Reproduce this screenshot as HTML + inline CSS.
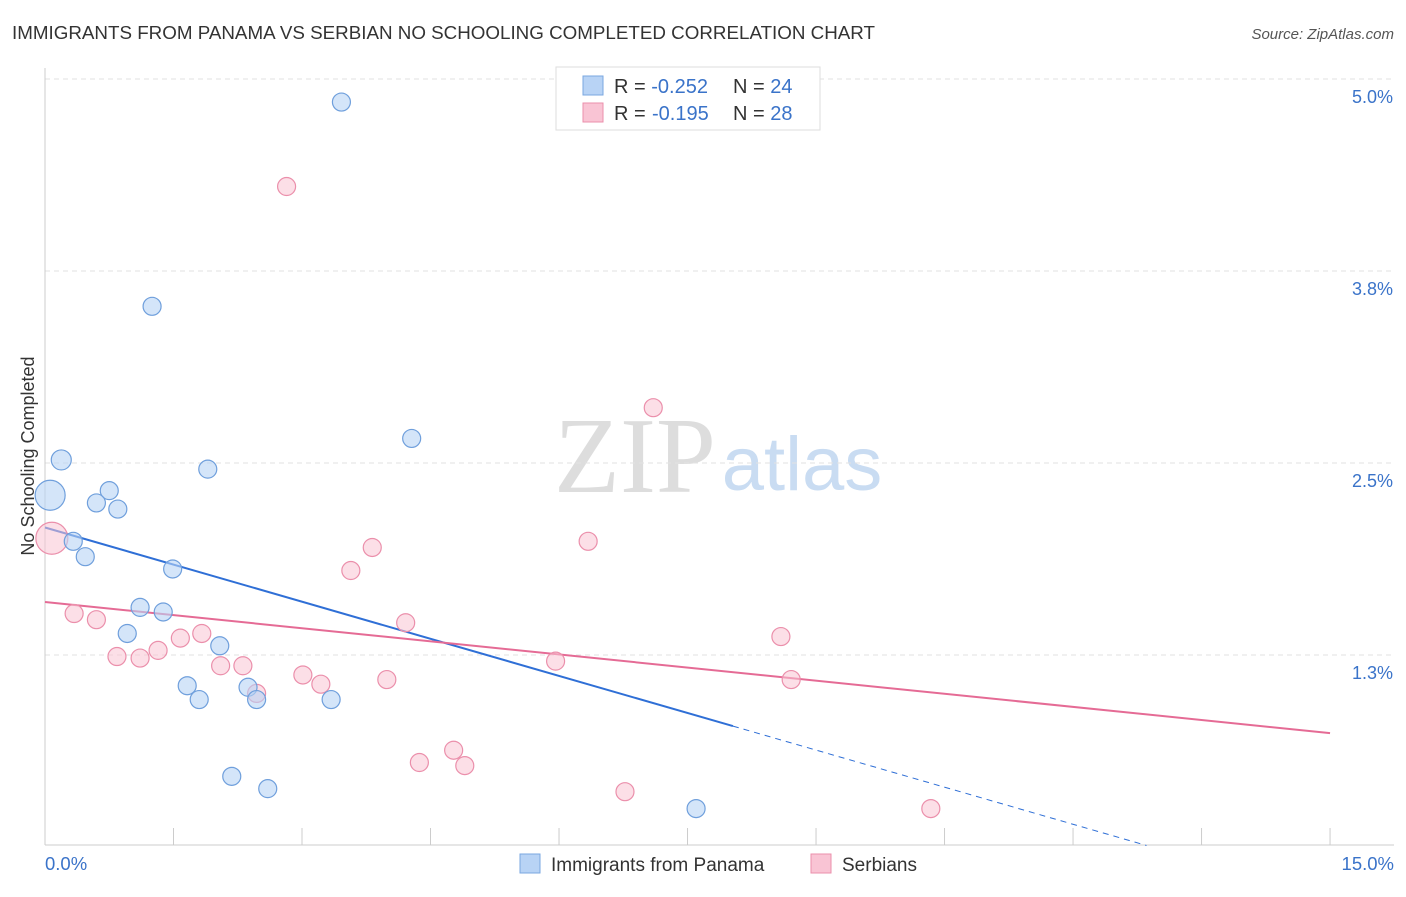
<!DOCTYPE html>
<html><head><meta charset="utf-8"><style>
body{margin:0;background:#fff;font-family:"Liberation Sans",sans-serif;}
</style></head><body>
<svg id="c" width="1406" height="892" xmlns="http://www.w3.org/2000/svg">
<text x="12" y="39" font-size="18.8" fill="#333">IMMIGRANTS FROM PANAMA VS SERBIAN NO SCHOOLING COMPLETED CORRELATION CHART</text>
<text x="1394" y="39" font-size="15" fill="#555" font-style="italic" text-anchor="end">Source: ZipAtlas.com</text>
<text x="34" y="456" font-size="18" fill="#333" text-anchor="middle" transform="rotate(-90 34 456)">No Schooling Completed</text>
<text x="635" y="492" font-size="108" fill="#ddd" font-family="Liberation Serif,serif" text-anchor="middle">ZIP</text>
<text x="802" y="490" font-size="76" fill="#c9dcf2" text-anchor="middle">atlas</text>
<g id="grid"></g><g id="axes"></g><g id="lines"></g><g id="pts"></g>
<rect x="556" y="67" width="264" height="63" fill="#fff" stroke="#ddd"/>
<rect x="583" y="76" width="20" height="19" fill="#b8d3f5" stroke="#7aa7e0"/>
<rect x="583" y="103" width="20" height="19" fill="#f9c4d4" stroke="#eb8fab"/>
<text x="614" y="93" font-size="20" fill="#333">R = <tspan fill="#3a73c9">-0.252</tspan><tspan x="733">N = </tspan><tspan fill="#3a73c9">24</tspan></text>
<text x="614" y="120" font-size="20" fill="#333">R = <tspan fill="#3a73c9" x="652">-0.195</tspan><tspan x="733">N = </tspan><tspan fill="#3a73c9">28</tspan></text>
<rect x="520" y="854" width="20" height="19" fill="#b8d3f5" stroke="#7aa7e0"/>
<text x="551" y="871" font-size="19" fill="#333">Immigrants from Panama</text>
<rect x="811" y="854" width="20" height="19" fill="#f9c4d4" stroke="#eb8fab"/>
<text x="842" y="871" font-size="19" fill="#333">Serbians</text>
</svg>
<script>
const yTicks=[5.0,3.75,2.5,1.25];
const yTickLabels=["5.0%","3.8%","2.5%","1.3%"];
const xTicks=[0,1.5,3,4.5,6,7.5,9,10.5,12,13.5,15];
const panamaX=[3.46,1.25,0.19,0.06,0.75,0.6,0.85,1.9,4.28,0.33,0.47,1.49,1.11,1.38,0.96,2.04,1.66,1.8,2.37,2.47,3.34,2.18,2.6,7.6];
const panamaY=[4.85,3.52,2.52,2.29,2.32,2.24,2.20,2.46,2.66,1.99,1.89,1.81,1.56,1.53,1.39,1.31,1.05,0.96,1.04,0.96,0.96,0.46,0.38,0.25];
const panamaSize=[9,9,10,15,9,9,9,9,9,9,9,9,9,9,9,9,9,9,9,9,9,9,9,9];
const serbX=[2.82,7.1,0.08,3.82,6.34,3.57,0.34,0.6,4.21,1.58,1.83,1.32,0.84,1.11,2.05,2.31,8.59,5.96,3.01,3.22,3.99,2.47,8.71,4.77,4.37,4.9,6.77,10.34];
const serbY=[4.30,2.86,2.01,1.95,1.99,1.80,1.52,1.48,1.46,1.36,1.39,1.28,1.24,1.23,1.18,1.18,1.37,1.21,1.12,1.06,1.09,1.0,1.09,0.63,0.55,0.53,0.36,0.25];
const serbSize=[9,9,16,9,9,9,9,9,9,9,9,9,9,9,9,9,9,9,9,9,9,9,9,9,9,9,9,9];
const panamaTrend=[2.08,-0.161]; const panamaSolidEnd=8.03;
const serbTrend=[1.595,-0.0569];
const X=v=>45+v*85.67, Y=v=>847-v*153.6;
const NS="http://www.w3.org/2000/svg";
function mk(t,a,p){const e=document.createElementNS(NS,t);for(const k in a)e.setAttribute(k,a[k]);document.getElementById(p).appendChild(e);return e;}
yTicks.forEach((v,i)=>{
 const l=mk('line',{x1:45,x2:1394,y1:Y(v),y2:Y(v),stroke:'#e2e2e2','stroke-dasharray':'5,4'},'grid');
 
 
 const t=mk('text',{x:1393,y:Y(v)+24,'font-size':18,fill:'#3a73c9','text-anchor':'end'},'grid');
 t.textContent=yTickLabels[i];
 
 
});
let ax=mk('line',{x1:45,x2:45,y1:68,y2:845,stroke:'#ccc'},'axes');


ax=mk('line',{x1:45,x2:1394,y1:845,y2:845,stroke:'#ccc'},'axes');


xTicks.forEach(v=>{const l=mk('line',{x1:X(v),x2:X(v),y1:828,y2:845,stroke:'#ccc'},'axes');
 
 });
let t=mk('text',{x:45,y:870,'font-size':18.5,fill:'#3a73c9'},'axes');t.textContent='0.0%';


t=mk('text',{x:1394,y:870,'font-size':18.5,fill:'#3a73c9','text-anchor':'end'},'axes');t.textContent='15.0%';


function pts(xs,ys,ss,fill,stroke,name){xs.forEach((x,i)=>{const c=mk('circle',{cx:X(x),cy:Y(ys[i]),r:ss[i],fill:fill,stroke:stroke,'stroke-width':1.2},'pts');
 
 });}
pts(serbX,serbY,serbSize,'rgba(249,196,212,0.55)','#eb8fab','serbians-point');
pts(panamaX,panamaY,panamaSize,'rgba(184,211,245,0.6)','#6f9fdc','panama-point');
const pe=(panamaTrend[0]-0)/-panamaTrend[1];
let l=mk('line',{x1:X(0),y1:Y(panamaTrend[0]),x2:X(panamaSolidEnd),y2:Y(panamaTrend[0]+panamaTrend[1]*panamaSolidEnd),stroke:'#2f6fd6','stroke-width':2},'lines');


const xe=Math.min(pe,15), ye=Math.max(panamaTrend[0]+panamaTrend[1]*xe,0.01);
l=mk('line',{x1:X(panamaSolidEnd),y1:Y(panamaTrend[0]+panamaTrend[1]*panamaSolidEnd),x2:X((ye-panamaTrend[0])/panamaTrend[1]),y2:Y(ye),stroke:'#2f6fd6','stroke-width':1,'stroke-dasharray':'6,5'},'lines');


l=mk('line',{x1:X(0),y1:Y(serbTrend[0]),x2:X(15),y2:Y(serbTrend[0]+serbTrend[1]*15),stroke:'#e56b95','stroke-width':2},'lines');


</script>
</body></html>
